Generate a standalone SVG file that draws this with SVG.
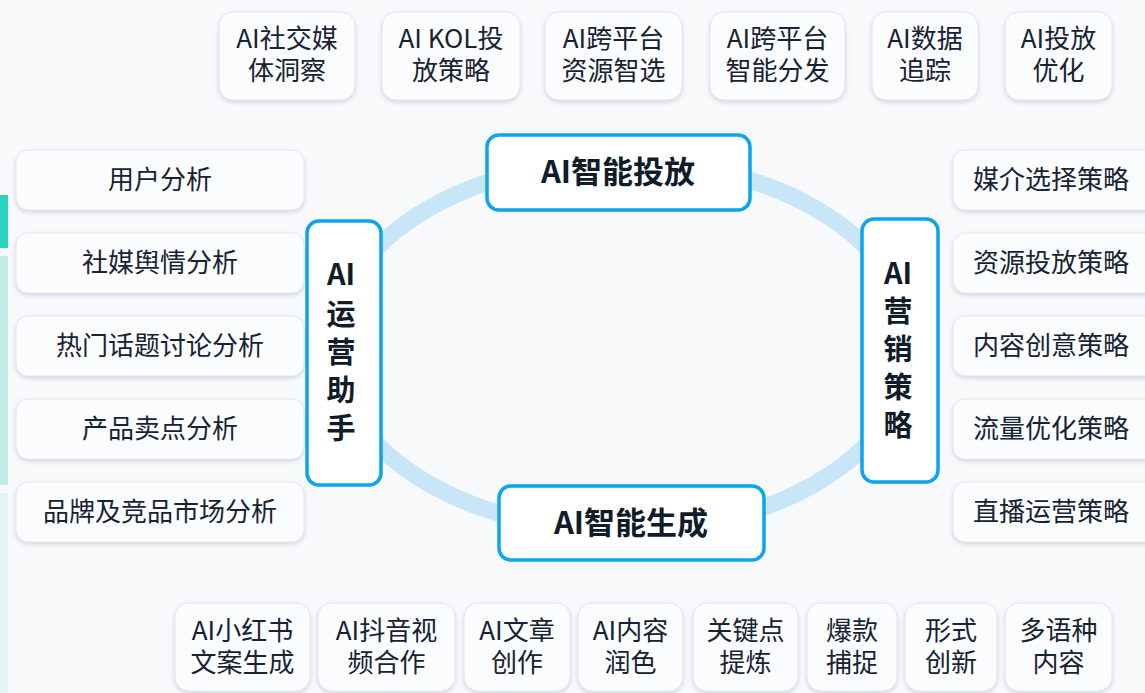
<svg xmlns="http://www.w3.org/2000/svg" width="1145" height="693" viewBox="0 0 1145 693">
<defs>
<filter id="sh" x="-10%" y="-10%" width="120%" height="130%">
<feDropShadow dx="0" dy="2" stdDeviation="2" flood-color="#8a99a8" flood-opacity="0.35"/>
</filter>
<style>
.node{fill:#fbfcfd;stroke:#e2e6ec;stroke-width:1;filter:url(#sh)}
.core{fill:#ffffff;stroke:#0ba4ee;stroke-width:3.5}
.t{font-family:"Noto Sans CJK SC","Noto Sans",sans-serif;font-size:26px;fill:#172233;text-anchor:middle}
.tl{font-family:"Noto Sans CJK SC","Noto Sans",sans-serif;font-size:26px;fill:#172233;text-anchor:start}
.tb{font-family:"Noto Sans CJK SC","Noto Sans",sans-serif;font-size:31px;font-weight:600;fill:#111c2b;text-anchor:middle}
.tv{font-family:"Noto Sans CJK SC","Noto Sans",sans-serif;font-size:29px;font-weight:600;fill:#111c2b;text-anchor:middle}
</style>
</defs>
<rect x="0" y="0" width="1145" height="693" fill="#f8f9fb"/>
<rect x="0" y="195" width="8" height="53" fill="#2cd3c3"/>
<rect x="0" y="256" width="8" height="229" fill="#c3ebe5"/>
<rect x="0" y="493" width="8" height="200" fill="#e4f4f4"/>

<g id="connectors">
<ellipse cx="622" cy="346" rx="289" ry="185" fill="none" stroke="#c8e6f8" stroke-width="17"/>
</g>

<g id="top-nodes">
<g id="n-t1"><rect class="node" x="219" y="12" width="136" height="88" rx="14"/><text class="t" x="287" y="48">AI社交媒</text><text class="t" x="287" y="80">体洞察</text></g>
<g id="n-t2"><rect class="node" x="382" y="12" width="138" height="88" rx="14"/><text class="t" x="451" y="48">AI KOL投</text><text class="t" x="451" y="80">放策略</text></g>
<g id="n-t3"><rect class="node" x="545" y="12" width="137" height="88" rx="14"/><text class="t" x="613.5" y="48">AI跨平台</text><text class="t" x="613.5" y="80">资源智选</text></g>
<g id="n-t4"><rect class="node" x="710" y="12" width="135" height="88" rx="14"/><text class="t" x="777.5" y="48">AI跨平台</text><text class="t" x="777.5" y="80">智能分发</text></g>
<g id="n-t5"><rect class="node" x="872" y="12" width="106" height="88" rx="14"/><text class="t" x="925" y="48">AI数据</text><text class="t" x="925" y="80">追踪</text></g>
<g id="n-t6"><rect class="node" x="1005" y="12" width="107" height="88" rx="14"/><text class="t" x="1058.5" y="48">AI投放</text><text class="t" x="1058.5" y="80">优化</text></g>
</g>

<g id="left-nodes">
<g id="n-l1"><rect class="node" x="16" y="150" width="288" height="60" rx="12"/><text class="t" x="160" y="189">用户分析</text></g>
<g id="n-l2"><rect class="node" x="16" y="233" width="288" height="60" rx="12"/><text class="t" x="160" y="272">社媒舆情分析</text></g>
<g id="n-l3"><rect class="node" x="16" y="316" width="288" height="60" rx="12"/><text class="t" x="160" y="355">热门话题讨论分析</text></g>
<g id="n-l4"><rect class="node" x="16" y="399" width="288" height="60" rx="12"/><text class="t" x="160" y="438">产品卖点分析</text></g>
<g id="n-l5"><rect class="node" x="16" y="482" width="288" height="60" rx="12"/><text class="t" x="160" y="521">品牌及竞品市场分析</text></g>
</g>

<g id="right-nodes">
<g id="n-r1"><rect class="node" x="953" y="150" width="290" height="60" rx="12"/><text class="tl" x="973" y="189">媒介选择策略</text></g>
<g id="n-r2"><rect class="node" x="953" y="233" width="290" height="60" rx="12"/><text class="tl" x="973" y="272">资源投放策略</text></g>
<g id="n-r3"><rect class="node" x="953" y="316" width="290" height="60" rx="12"/><text class="tl" x="973" y="355">内容创意策略</text></g>
<g id="n-r4"><rect class="node" x="953" y="399" width="290" height="60" rx="12"/><text class="tl" x="973" y="438">流量优化策略</text></g>
<g id="n-r5"><rect class="node" x="953" y="482" width="290" height="60" rx="12"/><text class="tl" x="973" y="521">直播运营策略</text></g>
</g>

<g id="bottom-nodes">
<g id="n-b1"><rect class="node" x="175" y="603" width="135" height="88" rx="14"/><text class="t" x="242.5" y="640">AI小红书</text><text class="t" x="242.5" y="672">文案生成</text></g>
<g id="n-b2"><rect class="node" x="318" y="603" width="137" height="88" rx="14"/><text class="t" x="386.5" y="640">AI抖音视</text><text class="t" x="386.5" y="672">频合作</text></g>
<g id="n-b3"><rect class="node" x="464" y="603" width="106" height="88" rx="14"/><text class="t" x="517" y="640">AI文章</text><text class="t" x="517" y="672">创作</text></g>
<g id="n-b4"><rect class="node" x="578" y="603" width="105" height="88" rx="14"/><text class="t" x="630.5" y="640">AI内容</text><text class="t" x="630.5" y="672">润色</text></g>
<g id="n-b5"><rect class="node" x="693" y="603" width="105" height="88" rx="14"/><text class="t" x="745.5" y="640">关键点</text><text class="t" x="745.5" y="672">提炼</text></g>
<g id="n-b6"><rect class="node" x="807" y="603" width="90" height="88" rx="14"/><text class="t" x="852" y="640">爆款</text><text class="t" x="852" y="672">捕捉</text></g>
<g id="n-b7"><rect class="node" x="905" y="603" width="92" height="88" rx="14"/><text class="t" x="951" y="640">形式</text><text class="t" x="951" y="672">创新</text></g>
<g id="n-b8"><rect class="node" x="1005" y="603" width="107" height="88" rx="14"/><text class="t" x="1058.5" y="640">多语种</text><text class="t" x="1058.5" y="672">内容</text></g>
</g>

<g id="core-top"><rect class="core" x="487" y="135" width="263" height="75" rx="12"/><text class="tb" x="618" y="183">AI智能投放</text></g>
<g id="core-bottom"><rect class="core" x="499" y="486" width="265" height="74" rx="12"/><text class="tb" x="631" y="534">AI智能生成</text></g>
<g id="core-left"><rect class="core" x="307" y="221" width="74" height="264" rx="12"/>
<text class="tv" x="341" y="285">AI</text><text class="tv" x="341" y="325">运</text><text class="tv" x="341" y="363">营</text><text class="tv" x="341" y="401">助</text><text class="tv" x="341" y="439">手</text></g>
<g id="core-right"><rect class="core" x="862" y="219" width="76" height="263" rx="12"/>
<text class="tv" x="898" y="284">AI</text><text class="tv" x="898" y="322">营</text><text class="tv" x="898" y="360">销</text><text class="tv" x="898" y="398">策</text><text class="tv" x="898" y="436">略</text></g>
</svg>
